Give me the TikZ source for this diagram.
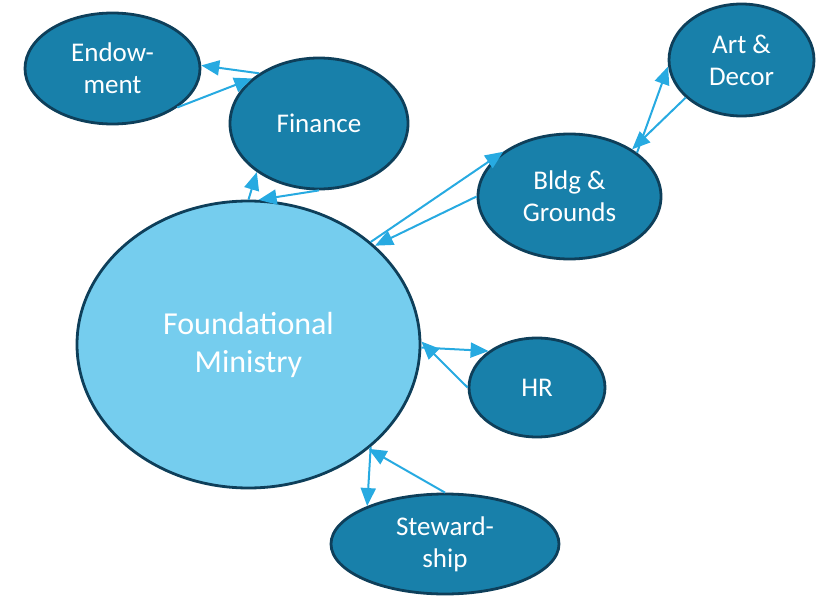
\documentclass[tikz,border=0pt]{standalone}
\usepackage{fontspec}
\setmainfont{Carlito}
\usetikzlibrary{shapes.geometric,arrows.meta}
\definecolor{darkteal}{HTML}{1880AA}
\definecolor{lightteal}{HTML}{75CDEE}
\definecolor{rimblue}{HTML}{0E3F5A}
\definecolor{linkblue}{HTML}{27AAE1}
\tikzset{
    unit/.style={ellipse, draw=rimblue, line width=2.8pt, fill=darkteal, text=white,
        align=center, inner sep=0pt, font=\fontsize{27}{32}\selectfont},
    link/.style={draw=linkblue, line width=2pt, -{Triangle[length=18pt,width=15pt]}}
}

\begin{document}
\begin{tikzpicture}[x=1pt,y=-1pt]
                \useasboundingbox (0,0) rectangle (817,597);
                \begin{scope}
                    \node [unit, fill=lightteal, minimum width=343pt, minimum height=287pt,
                        font=\fontsize{32}{39}\selectfont] (found) at (248.5,344.5) {Foundational\\[-1pt]\rule{0pt}{30pt}Ministry};
                    \node [unit, minimum width=178pt, minimum height=131pt] (fin)   at (319,123.5) {Finance};
                    \node [unit, minimum width=175pt, minimum height=111pt] (endow) at (112.5,68.5) {Endow-\\ment};
                    \node [unit, minimum width=145pt, minimum height=112pt] (art)   at (741.5,60)   {Art \&\\Decor};
                    \node [unit, minimum width=183pt, minimum height=125pt] (bldg)  at (569.5,196.5) {Bldg \&\\Grounds};
                    \node [unit, minimum width=136pt, minimum height=99pt]  (hr)    at (537,387.5)  {HR};
                    \node [unit, minimum width=228pt, minimum height=100pt] (stew)  at (445,544)    {Steward-\\ship};

                    \draw [link] (fin.140) -- (endow.2);
                    \draw [link] (endow.-31) -- (fin.146);
                    \draw [link] (found.90) -- (fin.218);
                    \draw [link] (fin.270) -- (found.86);
                    \draw [link] (found.40) -- (bldg.146);
                    \draw [link] (bldg.180) -- (found.38);
                    \draw [link] (bldg.33) -- (art.185);
                    \draw [link] (art.214) -- (bldg.37);
                    \draw [link] (found.-1) -- (hr.143);
                    \draw [link] (hr.180) -- (found.1);
                    \draw [link] (found.-40) -- (stew.154);
                    \draw [link] (stew.90) -- (found.-41);
                \end{scope}
            \end{tikzpicture}
\end{document}
